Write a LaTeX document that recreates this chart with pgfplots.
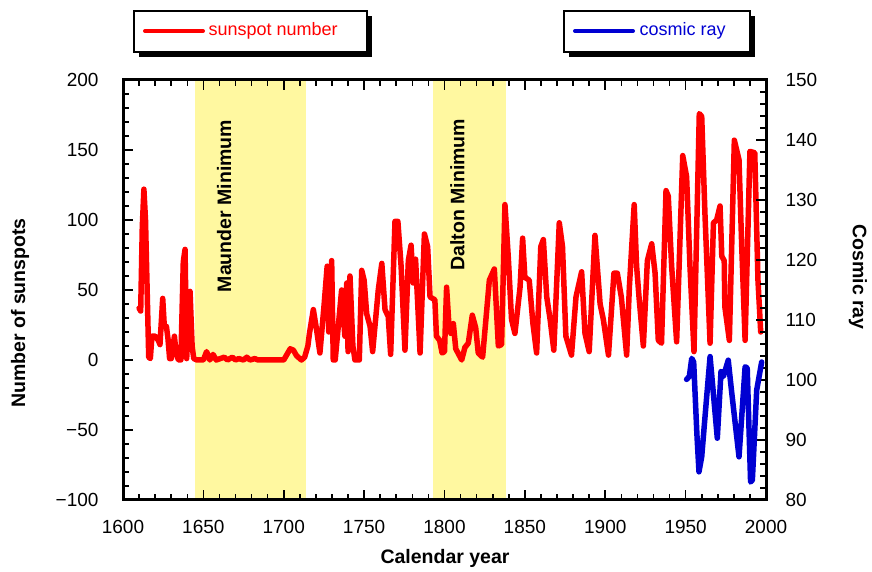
\documentclass[border=0pt]{standalone}
\usepackage{fontspec}
\setmainfont{Liberation Sans}
\usepackage{pgfplots}
\pgfplotsset{compat=1.18}

\definecolor{band}{RGB}{255,248,160}
\definecolor{ssred}{RGB}{255,0,0}
\definecolor{crblue}{RGB}{0,0,210}

\pgfplotsset{
  chartbase/.style={
    at={(123pt,72pt)}, anchor=south west,
    scale only axis, width=643pt, height=420pt,
    xmin=1600, xmax=2000,
    axis line style={line width=3pt},
    tick align=inside,
    major tick length=10pt, minor tick length=6pt,
    every tick/.style={black, line width=1.6pt},
    tick label style={font=\fontsize{19}{22}\selectfont},
    /pgf/number format/assume math mode=true,
    /pgf/number format/set thousands separator={},
  }
}

\begin{document}
\begin{tikzpicture}[x=1pt,y=1pt]
\path[use as bounding box] (0,0) rectangle (872,572);

\begin{axis}[chartbase,
  ymin=-100, ymax=200,
  xtick={1600,1650,...,2000},
  ytick={-100,-50,...,200},
  yticklabels={−100,−50,0,50,100,150,200},
  minor x tick num=4, minor y tick num=4,
  ytick pos=left,
  yticklabel style={xshift=-21pt},
  xticklabel style={yshift=-17pt},
  axis on top,
]
% shaded minima
\addplot[fill=band, draw=none] coordinates {(1645,-100) (1714,-100) (1714,200) (1645,200)} -- cycle;
\addplot[fill=band, draw=none] coordinates {(1793,-100) (1838,-100) (1838,200) (1793,200)} -- cycle;

\node[rotate=90, font=\fontsize{19.5}{22}\selectfont\bfseries] at (axis cs:1663,110) {Maunder Minimum};
\node[rotate=90, font=\fontsize{19.5}{22}\selectfont\bfseries] at (axis cs:1808,118) {Dalton Minimum};

% sunspot number
\addplot[ssred, line width=5.5pt, line join=round, line cap=round] coordinates {
(1610,37) (1611,35) (1612,95) (1613,122) (1614,100) (1616,2) (1617,1) (1618,17)
(1620,17) (1622,14) (1623,11) (1624.7,44) (1625.7,24) (1627,24) (1628,15) (1629,1)
(1630,1) (1632,17) (1633,5) (1634.5,0) (1636,0) (1637.5,70) (1638.6,79) (1639.6,1)
(1641.7,49) (1643,10) (1644,1) (1646,0) (1650,0) (1652,6) (1654,0) (1656,4) (1658,0)
(1663,2) (1665,0) (1668,2) (1670,0) (1672,1) (1675,0) (1677,2) (1679,0) (1682,1)
(1684,0) (1700,0) (1702,4) (1704,8) (1706,7) (1708,3) (1711,0) (1713,2) (1715,10)
(1716,19) (1718.4,36) (1720.5,21) (1722.5,5) (1725,38) (1727,67) (1728,20) (1729.8,71)
(1730.8,0) (1732,0) (1736,50) (1738,17) (1739.2,55) (1740,6) (1741.2,60) (1743,10)
(1744.3,0) (1747,0) (1748.5,64) (1750,57) (1751.6,33) (1753.7,24) (1755.3,6)
(1758.8,50) (1761,69) (1763,36) (1765,31) (1766.5,4) (1769.2,99) (1771,99) (1773,67)
(1775.4,7) (1777.5,71) (1779.2,82) (1780.5,55) (1782,72) (1784.8,5) (1787.5,90)
(1789.5,81) (1791,45) (1794,43) (1795,17) (1797,14) (1798.5,5) (1800,6) (1801.3,52)
(1802.8,24) (1804,19) (1805.5,26) (1807,8) (1810.7,0) (1812.7,9) (1814.8,12)
(1817.3,32) (1819.4,23) (1821,5) (1823.7,2) (1827.9,57) (1831,65) (1833.5,10)
(1835.5,11) (1837.6,111) (1839.7,73) (1841.7,29) (1843.8,19) (1847,52) (1848.6,87)
(1850,59) (1852.7,57) (1855,26) (1857.3,5) (1859.9,81) (1861.5,86) (1863.6,45)
(1865.7,29) (1868,7) (1871.4,98) (1873.4,81) (1875.5,17) (1879,3.5) (1881.8,45)
(1885.3,63) (1887.4,19) (1890,6) (1893.6,89) (1896.8,40) (1898.8,29) (1902,3.5)
(1905.4,62) (1907.5,62) (1910,45) (1913.3,3.5) (1915,52) (1918,111) (1919.5,67)
(1921,45) (1923.7,10) (1926.2,71) (1928.9,83) (1931,62) (1933,14) (1935,12)
(1937.8,121) (1939.2,117) (1941.3,67) (1944.4,13) (1948.2,146) (1950.6,131)
(1952.7,67) (1955.2,6) (1958.5,176) (1960,174) (1962,105) (1965.2,12) (1967.3,98)
(1969.3,100) (1971.4,110) (1972.5,74) (1974,71) (1974.4,38) (1977.2,14) (1980.3,157)
(1983.2,143) (1984.9,81) (1987,14) (1990,149) (1993,148) (1995,57) (1996.7,20)
};
\end{axis}

\begin{axis}[chartbase,
  ymin=80, ymax=150,
  hide x axis,
  axis y line*=right,
  ytick={80,90,...,150},
  minor y tick num=4,
  yticklabel style={xshift=16pt},
]
% cosmic ray
\addplot[crblue, line width=5.5pt, line join=round, line cap=round] coordinates {
(1950.6,100.1) (1952.3,100.6) (1953.8,103.6) (1955,103) (1957,91) (1958.3,84.7)
(1960,87.2) (1962.4,95) (1965.2,103.9) (1967.5,97) (1969.7,90.3) (1972,101.4)
(1973.5,100.6) (1976.5,103.3) (1978.5,98.3) (1983.2,87.2) (1987,102.2) (1988.3,102)
(1990.4,83) (1991.5,83.3) (1994.2,98.3) (1997.3,103)
};
\end{axis}

% axis titles
\node[rotate=90, font=\fontsize{19.5}{22}\selectfont\bfseries] at (20,259) {Number of sunspots};
\node[font=\fontsize{19.5}{22}\selectfont\bfseries] at (445,14) {Calendar year};
\node[rotate=-90, font=\fontsize{19.5}{22}\selectfont\bfseries] at (858,295) {Cosmic ray};

% legend boxes with drop shadow
\fill[black] (139,515) rectangle (372,556);
\filldraw[fill=white, draw=black, line width=2pt] (134,520) rectangle (367,561);
\draw[ssred, line width=4pt, line cap=round] (145,541) -- (203,541);
\node[anchor=west, text=ssred, font=\fontsize{18}{21}\selectfont] at (205,541) {sunspot number};

\fill[black] (569,515) rectangle (755,556);
\filldraw[fill=white, draw=black, line width=2pt] (564,520) rectangle (750,561);
\draw[crblue, line width=4pt, line cap=round] (575,541) -- (633,541);
\node[anchor=west, text=crblue, font=\fontsize{18}{21}\selectfont] at (636,541) {cosmic ray};
\end{tikzpicture}
\end{document}
